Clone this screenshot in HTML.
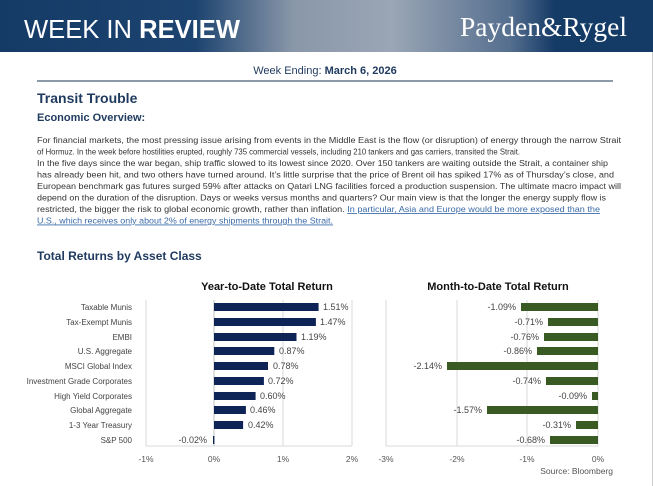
<!DOCTYPE html>
<html><head><meta charset="utf-8"><style>
html,body{margin:0;padding:0;background:#fff;}
svg{display:block;font-family:"Liberation Sans",sans-serif;}
</style></head><body>
<svg width="653" height="486" viewBox="0 0 653 486" xmlns="http://www.w3.org/2000/svg">
<defs>
<linearGradient id="bg" x1="0" x2="1" y1="0" y2="0">
<stop offset="0" stop-color="#143a66"/>
<stop offset="0.3" stop-color="#1d4470"/>
<stop offset="0.45" stop-color="#8a97a9"/>
<stop offset="0.6" stop-color="#9aa6b5"/>
<stop offset="0.78" stop-color="#566f8f"/>
<stop offset="0.85" stop-color="#143a66"/>
<stop offset="1" stop-color="#143a66"/>
</linearGradient>
</defs>
<rect x="0" y="0" width="653" height="52" fill="url(#bg)"/>
<text x="24" y="38" font-size="26" fill="#fff" textLength="216" lengthAdjust="spacingAndGlyphs">WEEK IN <tspan font-weight="bold">REVIEW</tspan></text>
<text x="460" y="36" font-size="27" fill="#fff" font-family="Liberation Serif,serif" textLength="167" lengthAdjust="spacingAndGlyphs">Payden&amp;Rygel</text>
<rect x="652" y="52" width="1" height="434" fill="#ccc"/>

<text x="325" y="74" font-size="11" fill="#1f3a5f" text-anchor="middle">Week Ending: <tspan font-weight="bold">March 6, 2026</tspan></text>
<rect x="37" y="80" width="576" height="2" fill="#8c99a6"/>
<text x="37" y="103" font-size="14" font-weight="bold" fill="#1f3a5f">Transit Trouble</text>
<text x="37" y="121" font-size="11" font-weight="bold" fill="#1f3a5f">Economic Overview:</text>

<g font-size="8.6" fill="#333" lengthAdjust="spacingAndGlyphs">
<text x="37" y="143" textLength="584" lengthAdjust="spacingAndGlyphs">For financial markets, the most pressing issue arising from events in the Middle East is the flow (or disruption) of energy through the narrow Strait</text>
<text x="37" y="154.5" textLength="483" lengthAdjust="spacingAndGlyphs">of Hormuz. In the week before hostilities erupted, roughly 735 commercial vessels, including 210 tankers and gas carriers, transited the Strait.</text>
<text x="37" y="166" textLength="571" lengthAdjust="spacingAndGlyphs">In the five days since the war began, ship traffic slowed to its lowest since 2020. Over 150 tankers are waiting outside the Strait, a container ship</text>
<text x="37" y="177.5" textLength="577" lengthAdjust="spacingAndGlyphs">has already been hit, and two others have turned around. It’s little surprise that the price of Brent oil has spiked 17% as of Thursday’s close, and</text>
<text x="37" y="189" textLength="584" lengthAdjust="spacingAndGlyphs">European benchmark gas futures surged 59% after attacks on Qatari LNG facilities forced a production suspension. The ultimate macro impact will</text>
<text x="37" y="200.5" textLength="569" lengthAdjust="spacingAndGlyphs">depend on the duration of the disruption. Days or weeks versus months and quarters? Our main view is that the longer the energy supply flow is</text>
<text x="37" y="212" textLength="563" lengthAdjust="spacingAndGlyphs">restricted, the bigger the risk to global economic growth, rather than inflation. <tspan fill="#3a6aa8" text-decoration="underline">In particular, Asia and Europe would be more exposed than the</tspan></text>
<text x="37" y="223.5" textLength="296" lengthAdjust="spacingAndGlyphs" fill="#3a6aa8" text-decoration="underline">U.S., which receives only about 2% of energy shipments through the Strait.</text>
</g>
<rect x="37" y="213.5" width="0" height="0"/>
<text x="37" y="260" font-size="12" font-weight="bold" fill="#1f3a5f">Total Returns by Asset Class</text>

<!-- YTD chart -->
<text x="267" y="290" font-size="11" font-weight="bold" fill="#111" text-anchor="middle">Year-to-Date Total Return</text>
<g stroke="#d9d9d9" stroke-width="1">
<line x1="146" y1="300" x2="146" y2="446"/>
<line x1="283" y1="300" x2="283" y2="446"/>
<line x1="352" y1="300" x2="352" y2="446"/>
<line x1="146" y1="446" x2="352" y2="446"/>
</g>
<line x1="214" y1="300" x2="214" y2="446" stroke="#bfbfbf"/>
<g font-size="8" fill="#444" text-anchor="end">
<text x="132" y="310">Taxable Munis</text>
<text x="132" y="325">Tax-Exempt Munis</text>
<text x="132" y="340">EMBI</text>
<text x="132" y="354">U.S. Aggregate</text>
<text x="132" y="369">MSCI Global Index</text>
<text x="132" y="384">Investment Grade Corporates</text>
<text x="132" y="399">High Yield Corporates</text>
<text x="132" y="413">Global Aggregate</text>
<text x="132" y="428">1-3 Year Treasury</text>
<text x="132" y="443">S&amp;P 500</text>
</g>
<g fill="#0f2456">
<rect x="214" y="303" width="104.6" height="8"/>
<rect x="214" y="318" width="101.9" height="8"/>
<rect x="214" y="333" width="82.5" height="8"/>
<rect x="214" y="347" width="60.3" height="8"/>
<rect x="214" y="362" width="54" height="8"/>
<rect x="214" y="377" width="49.9" height="8"/>
<rect x="214" y="392" width="41.6" height="8"/>
<rect x="214" y="406" width="31.9" height="8"/>
<rect x="214" y="421" width="29.1" height="8"/>
<rect x="213" y="436" width="1.4" height="8"/>
</g>
<g font-size="9" fill="#444">
<text x="323" y="310">1.51%</text>
<text x="320" y="325">1.47%</text>
<text x="301" y="340">1.19%</text>
<text x="279" y="354">0.87%</text>
<text x="273" y="369">0.78%</text>
<text x="268" y="384">0.72%</text>
<text x="260" y="399">0.60%</text>
<text x="250" y="413">0.46%</text>
<text x="248" y="428">0.42%</text>
<text x="207" y="443" text-anchor="end">-0.02%</text>
</g>
<g font-size="8.5" fill="#555" text-anchor="middle">
<text x="146" y="462">-1%</text>
<text x="214" y="462">0%</text>
<text x="283" y="462">1%</text>
<text x="352" y="462">2%</text>
</g>

<!-- MTD chart -->
<text x="498" y="290" font-size="11" font-weight="bold" fill="#111" text-anchor="middle">Month-to-Date Total Return</text>
<g stroke="#d9d9d9" stroke-width="1">
<line x1="386" y1="300" x2="386" y2="446"/>
<line x1="457" y1="300" x2="457" y2="446"/>
<line x1="527" y1="300" x2="527" y2="446"/>
<line x1="598" y1="300" x2="598" y2="446"/>
<line x1="386" y1="446" x2="598" y2="446"/>
</g>
<g fill="#3a5a23">
<rect x="521" y="303" width="77" height="8"/>
<rect x="548" y="318" width="50" height="8"/>
<rect x="544" y="333" width="54" height="8"/>
<rect x="537" y="347" width="61" height="8"/>
<rect x="447" y="362" width="151" height="8"/>
<rect x="546" y="377" width="52" height="8"/>
<rect x="592" y="392" width="6" height="8"/>
<rect x="487" y="406" width="111" height="8"/>
<rect x="576" y="421" width="22" height="8"/>
<rect x="550" y="436" width="48" height="8"/>
</g>
<g font-size="9" fill="#444" text-anchor="end">
<text x="516" y="310">-1.09%</text>
<text x="543" y="325">-0.71%</text>
<text x="539" y="340">-0.76%</text>
<text x="532" y="354">-0.86%</text>
<text x="442" y="369">-2.14%</text>
<text x="541" y="384">-0.74%</text>
<text x="587" y="399">-0.09%</text>
<text x="482" y="413">-1.57%</text>
<text x="571" y="428">-0.31%</text>
<text x="545" y="443">-0.68%</text>
</g>
<g font-size="8.5" fill="#555" text-anchor="middle">
<text x="386" y="462">-3%</text>
<text x="457" y="462">-2%</text>
<text x="527" y="462">-1%</text>
<text x="598" y="462">0%</text>
</g>
<text x="613" y="474" font-size="8.5" fill="#555" text-anchor="end">Source: Bloomberg</text>
</svg>
</body></html>
